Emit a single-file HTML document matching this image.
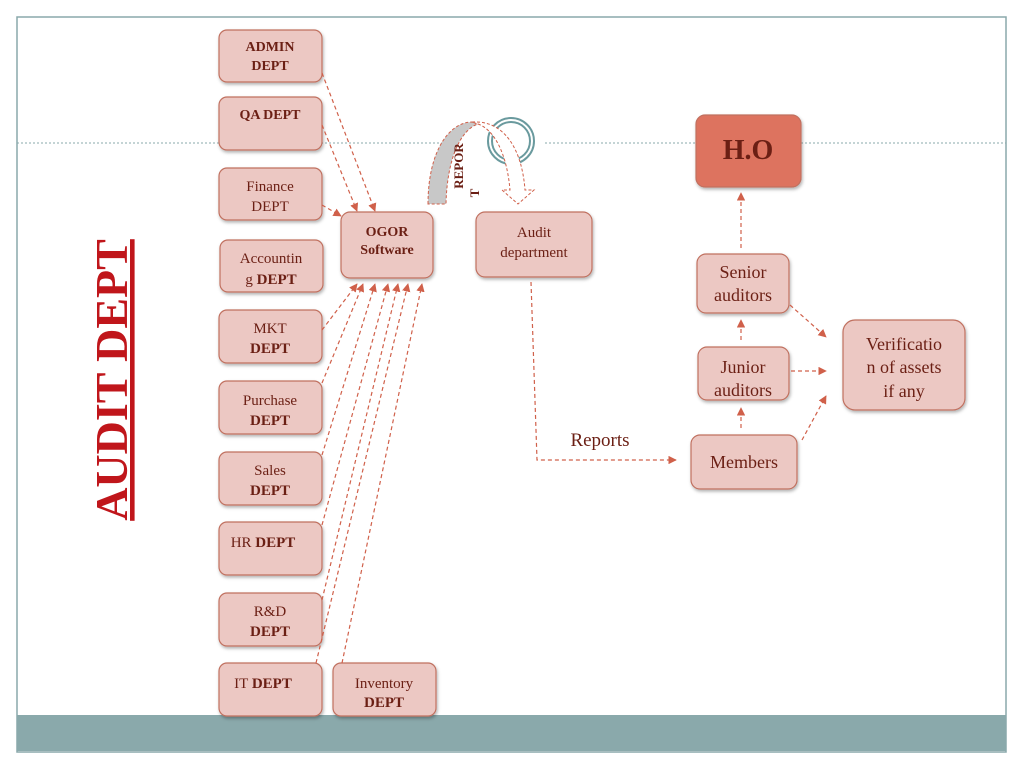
<!DOCTYPE html>
<html><head><meta charset="utf-8"><style>
html,body{margin:0;padding:0;background:#fff;width:1024px;height:768px;overflow:hidden}
svg text{font-family:"Liberation Serif",serif;fill:#6b1f14}
</style></head><body>
<svg width="1024" height="768" viewBox="0 0 1024 768" xmlns="http://www.w3.org/2000/svg">
<defs>
<marker id="a" viewBox="0 0 10 10" refX="9" refY="5" markerWidth="7" markerHeight="7" orient="auto-start-reverse"><path d="M0,0 L10,5 L0,10 z" fill="#d0604a"/></marker>
<filter id="s" x="-10%" y="-10%" width="130%" height="130%"><feDropShadow dx="1" dy="2" stdDeviation="1.5" flood-color="#000" flood-opacity="0.3"/></filter>
</defs>
<rect x="17" y="17" width="989" height="735" fill="none" stroke="#8aa9ab" stroke-width="1.5"/>
<rect x="17" y="715" width="989" height="36" fill="#8aa9ab"/>
<line x1="17" y1="143" x2="455" y2="143" stroke="#8aa9ab" stroke-dasharray="2,2"/>
<line x1="545" y1="143" x2="1006" y2="143" stroke="#8aa9ab" stroke-dasharray="2,2"/>
<circle cx="511" cy="141" r="23" fill="#fff" stroke="#6a9a9e" stroke-width="2"/>
<circle cx="511" cy="141" r="19" fill="none" stroke="#6a9a9e" stroke-width="2"/>
<text transform="translate(127,380) rotate(-90)" text-anchor="middle" font-size="46" font-weight="bold" style="fill:#c0161b" text-decoration="underline">AUDIT DEPT</text>
<path d="M428,204 C428,150 450,122 472,122 L478,124 C460,130 447,160 446,204 Z" fill="#c8c8c8" stroke="#d0604a" stroke-dasharray="3,2"/>
<path d="M472,122 C505,120 522,150 525,190 L534,190 L518,204 L502,190 L510,190 C507,155 495,130 478,124 Z" fill="#fff" stroke="#d0604a" stroke-dasharray="3,2"/>
<text transform="translate(463,166) rotate(-90)" text-anchor="middle" font-size="13" font-weight="bold">REPOR</text>
<text transform="translate(479,193) rotate(-90)" text-anchor="middle" font-size="13" font-weight="bold">T</text>
<g fill="#ecc8c3" stroke="#c0705f" stroke-width="1.2" filter="url(#s)">
<rect x="219" y="30" width="103" height="52" rx="8"/>
<rect x="219" y="97" width="103" height="53" rx="8"/>
<rect x="219" y="168" width="103" height="52" rx="8"/>
<rect x="220" y="240" width="103" height="52" rx="8"/>
<rect x="219" y="310" width="103" height="53" rx="8"/>
<rect x="219" y="381" width="103" height="53" rx="8"/>
<rect x="219" y="452" width="103" height="53" rx="8"/>
<rect x="219" y="522" width="103" height="53" rx="8"/>
<rect x="219" y="593" width="103" height="53" rx="8"/>
<rect x="219" y="663" width="103" height="53" rx="8"/>
<rect x="333" y="663" width="103" height="53" rx="8"/>
<rect x="341" y="212" width="92" height="66" rx="9"/>
<rect x="476" y="212" width="116" height="65" rx="9"/>
<rect x="697" y="254" width="92" height="59" rx="9"/>
<rect x="698" y="347" width="91" height="53" rx="9"/>
<rect x="691" y="435" width="106" height="54" rx="9"/>
<rect x="843" y="320" width="122" height="90" rx="12"/>
<rect x="696" y="115" width="105" height="72" rx="9" fill="#dd735f"/>
</g>
<g font-size="15" text-anchor="middle">
<text x="270" y="51" font-weight="bold" font-size="14">ADMIN</text><text x="270" y="70" font-weight="bold" font-size="14">DEPT</text>
<text x="270" y="119" font-weight="bold" font-size="14">QA DEPT</text>
<text x="270" y="191">Finance</text><text x="270" y="211">DEPT</text>
<text x="271" y="263">Accountin</text><text x="271" y="284">g <tspan font-weight="bold">DEPT</tspan></text>
<text x="270" y="333">MKT</text><text x="270" y="353" font-weight="bold">DEPT</text>
<text x="270" y="405">Purchase</text><text x="270" y="425" font-weight="bold">DEPT</text>
<text x="270" y="475">Sales</text><text x="270" y="495" font-weight="bold">DEPT</text>
<text x="263" y="547">HR <tspan font-weight="bold">DEPT</tspan></text>
<text x="270" y="616">R&amp;D</text><text x="270" y="636" font-weight="bold">DEPT</text>
<text x="263" y="688">IT <tspan font-weight="bold">DEPT</tspan></text>
<text x="384" y="688">Inventory</text><text x="384" y="707" font-weight="bold">DEPT</text>
<text x="387" y="236" font-weight="bold" font-size="14">OGOR</text><text x="387" y="254" font-weight="bold" font-size="14">Software</text>
<text x="534" y="237">Audit</text><text x="534" y="257">department</text>
<text x="743" y="278" font-size="18">Senior</text><text x="743" y="301" font-size="18">auditors</text>
<text x="743" y="373" font-size="18">Junior</text><text x="743" y="396" font-size="18">auditors</text>
<text x="744" y="468" font-size="18">Members</text>
<text x="904" y="350" font-size="18">Verificatio</text><text x="904" y="373" font-size="18">n of assets</text><text x="904" y="397" font-size="18">if any</text>
<text x="748" y="159" font-size="28" font-weight="bold">H.O</text>
<text x="600" y="446" font-size="19">Reports</text>
</g>
<g stroke="#d0604a" stroke-width="1.2" stroke-dasharray="4,3" fill="none" marker-end="url(#a)">
<line x1="322" y1="73" x2="375" y2="211"/>
<line x1="322" y1="125" x2="357" y2="211"/>
<line x1="322" y1="205" x2="341" y2="216"/>
<line x1="322" y1="330" x2="357" y2="284"/>
<line x1="322" y1="383" x2="363" y2="284"/>
<line x1="322" y1="455" x2="375" y2="284"/>
<line x1="322" y1="525" x2="388" y2="284"/>
<line x1="322" y1="600" x2="398" y2="284"/>
<line x1="316" y1="663" x2="408" y2="284"/>
<line x1="342" y1="663" x2="422" y2="284"/>
<polyline points="531,282 537,460 676,460"/>
<line x1="741" y1="248" x2="741" y2="193"/>
<line x1="741" y1="340" x2="741" y2="320"/>
<line x1="741" y1="428" x2="741" y2="408"/>
<line x1="790" y1="305" x2="826" y2="337"/>
<line x1="791" y1="371" x2="826" y2="371"/>
<line x1="802" y1="440" x2="826" y2="396"/>
</g>
</svg>
</body></html>
